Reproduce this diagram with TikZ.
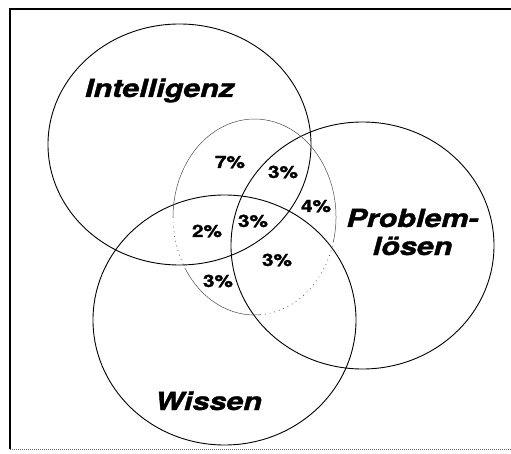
\documentclass[tikz,border=0pt]{standalone}
\usepackage{fontspec}
\setmainfont{TeX Gyre Heros}[BoldFeatures={FakeBold=1.3}, BoldItalicFeatures={FakeBold=1.3}]
\begin{document}
\begin{tikzpicture}[x=1pt,y=1pt,
  setring/.style={draw=black, line width=0.9pt},
  thinring/.style={draw=black!70, line width=0.5pt},
  dotring/.style={draw=black!70, line width=0.7pt, dash pattern=on 0.8pt off 4pt},
  biglabel/.style={font=\fontsize{25}{27}\selectfont\bfseries\itshape, xscale=1.22, inner sep=0pt, anchor=base},
  pct/.style={font=\fontsize{17}{18}\selectfont\bfseries, xscale=1.22, inner sep=0pt, anchor=base}]
\useasboundingbox (0,0) rectangle (511,453);
% frame
\draw[line width=2pt] (10,4) -- (10,444) -- (511,444);
\draw[black!60, line width=1pt, dash pattern=on 1pt off 1pt] (10,4) -- (511,4);
% main sets
\draw[setring] (179.5,308.5) ellipse [x radius=131.5, y radius=120.5];
\draw[setring] (224.5,133) ellipse [x radius=131.5, y radius=125];
\draw[setring] (362.5,207.5) ellipse [x radius=131.5, y radius=123.5];
% inner thin ellipse
\coordinate (dc) at (254.5,236);
\draw[thinring] ([shift={(-15:81.5 and 98)}]dc) arc [start angle=-15, end angle=180, x radius=81.5, y radius=98];
\draw[dotring] ([shift={(180:81.5 and 98)}]dc) arc [start angle=180, end angle=212, x radius=81.5, y radius=98];
\draw[thinring] ([shift={(212:81.5 and 98)}]dc) arc [start angle=212, end angle=274, x radius=81.5, y radius=98];
\draw[dotring] ([shift={(274:81.5 and 98)}]dc) arc [start angle=274, end angle=345, x radius=81.5, y radius=98];
% labels
\node[biglabel] (int) at (159.5,356) {Intelligenz};
\node[biglabel] (wis) at (208.5,43) {Wissen};
\node[biglabel] (prob) at (412.5,226) {Problem-};
\node[biglabel] (loes) at (412.5,198) {lösen};
% percentages
\node[pct] (p1) at (230,285) {7\%};
\node[pct] (p2) at (283,275) {3\%};
\node[pct] (p3) at (316,241) {4\%};
\node[pct] (p4) at (253,226) {3\%};
\node[pct] (p5) at (207,216) {2\%};
\node[pct] (p6) at (277,187) {3\%};
\node[pct] (p7) at (218,166) {3\%};
\end{tikzpicture}
\end{document}
